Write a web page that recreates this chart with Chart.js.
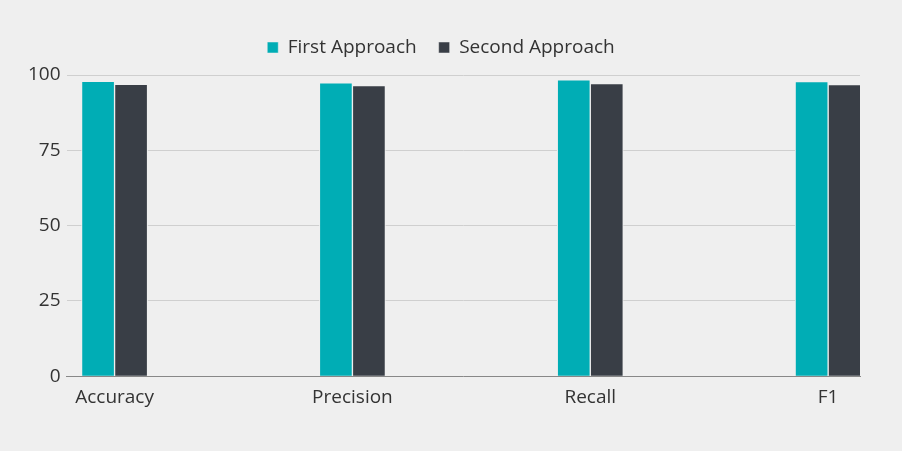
<!DOCTYPE html>
<html><head><meta charset="utf-8">
<script src="https://cdn.jsdelivr.net/npm/chart.js@4"></script>
<style>html,body{margin:0;background:#efefef}#w{width:902px;height:451px}</style>
</head><body><div id="w"><canvas id="c"></canvas></div>
<script>
const categories = ["Accuracy","Precision","Recall","F1"];
const firstApproach = [97.7, 97.2, 98.2, 97.6];
const secondApproach = [96.7, 96.3, 96.9, 96.6];
const yTicks = [0,25,50,75,100];
const toPts = a => a.map((v,i)=>({x:i,y:v}));
new Chart(document.getElementById('c'),{
  type:'bar',
  data:{datasets:[
    {label:'First Approach',data:toPts(firstApproach),backgroundColor:'#00adb5',borderColor:'#efefef',borderWidth:{right:1,left:1},barThickness:33},
    {label:'Second Approach',data:toPts(secondApproach),backgroundColor:'#393e46',borderColor:'#efefef',borderWidth:{right:1,left:1},barThickness:33}
  ]},
  options:{
    animation:false,responsive:true,maintainAspectRatio:false,
    layout:{padding:{left:22,right:42,top:16,bottom:40}},
    plugins:{legend:{position:'top',labels:{font:{family:'Open Sans',size:19},color:'#333',boxWidth:11,boxHeight:11,padding:22}},tooltip:{enabled:false}},
    scales:{
      x:{type:'linear',offset:false,min:-0.2017,max:3.134,
        afterBuildTicks:ax=>{ax.ticks=categories.map((c,i)=>({value:i}));},
        ticks:{callback:(v)=>categories[v],font:{family:'Open Sans',size:19},color:'#333',maxRotation:0,padding:2},
        grid:{display:false},border:{color:'#888'}},
      y:{min:0,max:100,afterBuildTicks:ax=>{ax.ticks=yTicks.map(v=>({value:v}));},
        ticks:{font:{family:'Open Sans',size:19},color:'#333',padding:6},
        grid:{color:'#cfcfcf',drawTicks:false},border:{display:false}}
    }
  },
  plugins:[{id:'legendGap',beforeInit(chart){const f=chart.legend.fit;chart.legend.fit=function(){f.bind(this)();this.height+=8;};}}]
});
</script></body></html>
